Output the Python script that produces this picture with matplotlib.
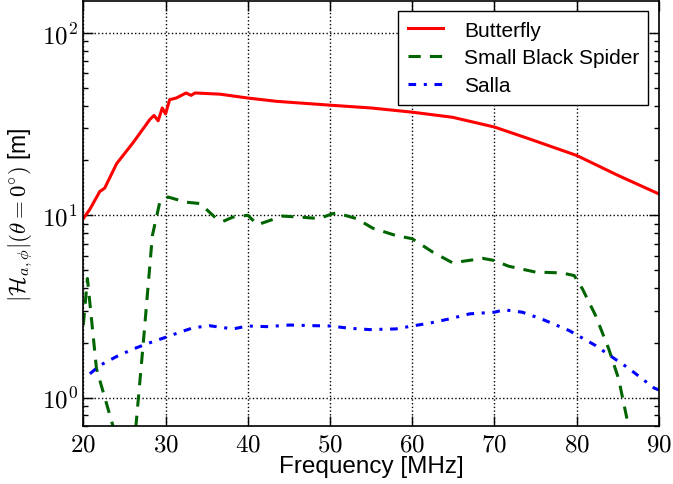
import math
import matplotlib
matplotlib.use("Agg")
import matplotlib.pyplot as plt
from matplotlib.ticker import FixedLocator, FuncFormatter, LogLocator, NullFormatter

plt.rcParams['mathtext.fontset'] = 'cm'
plt.rcParams['font.family'] = ['Liberation Sans', 'DejaVu Sans']

# Butterfly
bf_f = [20.0, 20.8, 22.0, 22.6, 24.05, 26.1, 28.1, 28.6, 29.1, 29.6, 30.0, 30.5, 31.3, 32.5, 33.1, 33.6,
        36.6, 40.0, 43.5, 50.0, 55.0, 60.0, 64.9, 70.0, 74.2, 80.0, 85.1, 90.0]
bf_v = [9.6, 10.8, 13.5, 14.1, 19.2, 25.2, 33.6, 35.3, 33.0, 38.8, 36.0, 43.1, 44.0, 46.9, 45.5, 46.9,
        46.2, 44.0, 42.2, 40.2, 38.8, 36.8, 34.5, 30.5, 26.3, 21.3, 16.5, 13.1]

# Small Black Spider
sbs_f = [20.0, 20.5, 21.6, 23.6, 24.2, 25.8, 26.4, 27.3, 28.4, 29.3, 30.3, 32.5, 34.2, 36.2, 37.0, 38.2,
         40.0, 41.2, 44.2, 46.3, 48.7, 50.3, 50.8, 53.2, 55.2, 58.0, 60.0, 62.5, 64.9, 68.6, 70.0, 71.7,
         75.0, 78.2, 79.7, 80.7, 82.3, 83.9, 85.1, 86.3, 87.0]
sbs_v = [2.5, 4.5, 1.44, 0.70, 0.55, 0.50, 0.70, 2.01, 7.75, 11.8, 12.6, 11.8, 11.6, 9.58, 9.26, 9.78,
         10.0, 8.88, 9.9, 9.78, 9.6, 10.2, 10.3, 9.6, 8.5, 7.75, 7.44, 6.28, 5.49, 5.8, 5.65, 5.26,
         4.88, 4.83, 4.67, 3.95, 2.82, 1.85, 1.27, 0.70, 0.55]

# Salla
sa_f = [20.8, 22.0, 24.05, 26.1, 28.5, 30.0, 31.7, 33.3, 35.3, 38.2, 40.0, 42.3, 45.1, 48.0, 50.0, 52.4,
        54.8, 58.0, 60.0, 62.1, 64.5, 67.0, 70.0, 71.2, 73.4, 75.9, 79.1, 80.0, 82.3, 84.3, 86.3, 89.4, 90.0]
sa_v = [1.35, 1.50, 1.68, 1.85, 2.03, 2.14, 2.28, 2.41, 2.48, 2.38, 2.47, 2.45, 2.50, 2.48, 2.47, 2.40,
        2.36, 2.38, 2.47, 2.56, 2.70, 2.88, 2.94, 3.03, 2.94, 2.68, 2.33, 2.21, 1.93, 1.67, 1.45, 1.13, 1.10]

xticks = [20, 30, 40, 50, 60, 70, 80, 90]
yticks = [1, 10, 100]

fig = plt.figure(figsize=(6.73, 4.85), dpi=100)
ax = fig.add_axes([0.1238, 0.120, 0.8552, 0.876])

ax.plot(bf_f, bf_v, color='red', lw=2.2, label='Butterfly')
ax.plot(sbs_f, sbs_v, color='#006400', lw=2.2, dashes=(4, 3), label='Small Black Spider')
ax.plot(sa_f, sa_v, color='blue', lw=2.2, dashes=(2.5, 2.5, 1, 2.5), label='Salla')

ax.set_yscale('log')
ax.set_xlim(20, 90)
ax.set_ylim(0.70, 150)
ax.xaxis.set_major_locator(FixedLocator(xticks))
ax.xaxis.set_major_formatter(FuncFormatter(lambda v, p: r'$%d$' % v))
ax.yaxis.set_major_locator(FixedLocator(yticks))
ax.yaxis.set_major_formatter(FuncFormatter(lambda v, p: r'$10^{%d}$' % round(math.log10(v))))
ax.yaxis.set_minor_locator(LogLocator(base=10, subs=range(2, 10)))
ax.yaxis.set_minor_formatter(NullFormatter())
ax.tick_params(which='both', direction='in', top=True, right=True, labelsize=18)
ax.tick_params(which='major', length=7, width=1)
ax.tick_params(which='minor', length=3.5, width=1)
ax.tick_params(axis='x', pad=4)
ax.tick_params(axis='y', pad=4)
ax.grid(True, which='major', color='black', linestyle=':', linewidth=1)
for s in ax.spines.values():
    s.set_linewidth(1.2)

ax.set_xlabel('Frequency [MHz]', fontsize=17.5, labelpad=0)
ax.set_ylabel(r'$|\mathcal{H}_{a,\phi}|(\theta=0^{\circ})$ [m]', fontsize=16.5, labelpad=5)

leg = ax.legend(loc='upper right', fontsize=15, fancybox=False, framealpha=1,
                edgecolor='black', handlelength=1.7, handletextpad=1.0, borderpad=0.45,
                labelspacing=0.42, borderaxespad=0.5)
leg.get_frame().set_linewidth(1.0)

fig.savefig('out.png', dpi=100)
